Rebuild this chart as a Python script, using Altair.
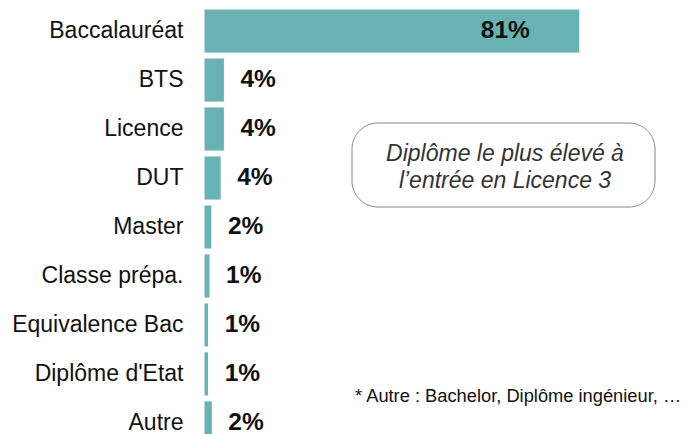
import altair as alt
import pandas as pd

categories = ["Baccalauréat", "BTS", "Licence", "DUT", "Master", "Classe prépa.",
              "Equivalence Bac", "Diplôme d'Etat", "Autre"]
values = [81.0, 4.4, 4.4, 3.7, 1.7, 1.3, 1.0, 1.0, 1.8]
labels = ["81%", "4%", "4%", "4%", "2%", "1%", "1%", "1%", "2%"]

box_line1 = "Diplôme le plus élevé à"
box_line2 = "l’entrée en Licence 3"
footnote = "* Autre : Bachelor, Diplôme ingénieur,  …"

df = pd.DataFrame({"cat": categories, "val": values, "lab": labels})

TEAL = "#68B2B3"
FONT = "Liberation Sans"

y_enc = alt.Y("cat:N", sort=None,
              scale=alt.Scale(range=[1, 437], paddingInner=0.1, paddingOuter=0),
              axis=alt.Axis(title=None, domain=False, ticks=False, grid=False,
                            labelFont=FONT, labelFontSize=23, labelColor="#111111",
                            labelPadding=21, labelLimit=300))
x_enc = alt.X("val:Q", scale=alt.Scale(domain=[0, 100]), axis=None)

bars = alt.Chart(df).mark_bar(color=TEAL, stroke="white", strokeWidth=1, clip=True).encode(
    x=x_enc, y=y_enc)

small = alt.Chart(df).transform_filter(alt.datum.val < 50).mark_text(
    align="left", baseline="middle", dx=16, font=FONT, fontSize=24.5,
    fontWeight="bold", color="#111111").encode(x=x_enc, y=y_enc, text="lab:N")

big = alt.Chart(df).transform_filter(alt.datum.val >= 50).mark_text(
    align="right", baseline="middle", dx=-50, font=FONT, fontSize=24.5,
    fontWeight="bold", color="#111111").encode(x=x_enc, y=y_enc, text="lab:N")

box = alt.Chart(pd.DataFrame({"a": [0]})).mark_rect(
    fill="white", stroke="#888888", strokeWidth=1, cornerRadius=26).encode(
    x=alt.value(148), x2=alt.value(451), y=alt.value(115), y2=alt.value(199))

line1 = alt.Chart(pd.DataFrame({"t": [box_line1]})).mark_text(
    align="center", baseline="alphabetic", font=FONT, fontSize=23, fontStyle="italic",
    color="#333333").encode(x=alt.value(301), y=alt.value(153), text="t:N")

line2 = alt.Chart(pd.DataFrame({"t": [box_line2]})).mark_text(
    align="center", baseline="alphabetic", font=FONT, fontSize=23, fontStyle="italic",
    color="#333333").encode(x=alt.value(301), y=alt.value(180), text="t:N")

foot = alt.Chart(pd.DataFrame({"t": [footnote]})).mark_text(
    align="left", baseline="alphabetic", font=FONT, fontSize=18.3, color="#111111").encode(
    x=alt.value(151), y=alt.value(394), text="t:N")

chart = alt.layer(bars, small, big, box, line1, line2, foot).properties(
    width=464, height=426,
    background="white",
    autosize=alt.AutoSizeParams(type="none"),
    padding={"left": 196, "top": 0, "right": 16, "bottom": 0},
).configure_view(strokeWidth=0)

chart.save("out.html", embed_options={"renderer": "svg", "actions": False})
